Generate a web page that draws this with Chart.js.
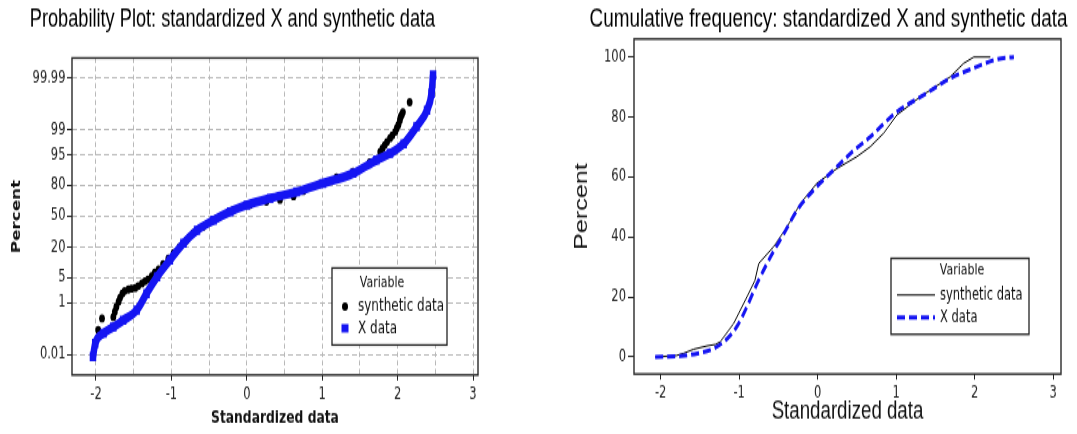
<!DOCTYPE html>
<html><head><meta charset="utf-8">
<script src="https://cdn.jsdelivr.net/npm/chart.js@4.4.1/dist/chart.umd.min.js"></script>
<style>
html,body{margin:0;padding:0;background:#fff;overflow:hidden;}
#wrap{position:relative;width:1077px;height:434px;background:#fff;}
canvas{position:absolute;top:0;}
</style></head><body>
<div id="wrap">
<canvas id="c1" width="540" height="310" style="left:0;width:540px;height:434px"></canvas>
<canvas id="c2" width="537" height="310" style="left:540px;width:537px;height:434px"></canvas>
</div>
<script>
// ---------------- data ----------------
const seriesNames = ['synthetic data', 'X data'];
const legendHeading = 'Variable';
const leftTitle = 'Probability Plot: standardized X and synthetic data';
const rightTitle = 'Cumulative frequency: standardized X and synthetic data';
const xAxisTitle = 'Standardized data';
const yAxisTitle = 'Percent';

// probability plot y ticks (percent, normal probability scale)
const probTickPercents = [0.01, 1, 5, 20, 50, 80, 95, 99, 99.99];
const probTickLabels = ['0.01', '1', '5', '20', '50', '80', '95', '99', '99.99'];
// x ticks
const xTickValues = [-2, -1, 0, 1, 2, 3];
const xTickLabels = ['-2', '-1', '0', '1', '2', '3'];
const probGridX = [-2, -1.5, -1, -0.5, 0, 0.5, 1, 1.5, 2, 2.5, 3];
// cumulative y ticks
const cumTickValues = [0, 20, 40, 60, 80, 100];

// probability plot: X data
const probXdataX = [-2.04, -2.01, -1.90, -1.77, -1.64, -1.46, -1.33, -1.19, -1.02, -0.84, -0.66, -0.44, -0.22, 0.00, 0.31, 0.66, 1.01, 1.41, 1.72, 1.90, 2.08, 2.25, 2.39, 2.45, 2.47];
const probXdataPct = [0.0078, 0.031, 0.082, 0.144, 0.256, 0.57, 1.88, 5.16, 11.9, 23.3, 35.2, 45.6, 54.8, 61.8, 68.4, 74.2, 81.1, 87.5, 93.4, 95.4, 97.4, 99.18, 99.78, 99.952, 99.9925];
// probability plot: synthetic data
const probSynthX = [-1.97, -1.92, -1.77, -1.75, -1.73, -1.70, -1.68, -1.65, -1.62, -1.57, -1.53, -1.48, -1.44, -1.39, -1.35, -1.31, -1.26, -1.22, -1.17, -1.11, -1.04, -0.97, -0.89, -0.80, -0.71, -0.58, -0.40, -0.18, 0.04, 0.26, 0.44, 0.62, 0.75, 0.97, 1.19, 1.41, 1.63, 1.77, 1.80, 1.83, 1.86, 1.90, 1.93, 1.97, 1.99, 2.01, 2.03, 2.04, 2.055, 2.07, 2.16];
const probSynthPct = [0.111, 0.298, 0.336, 0.508, 0.734, 1.07, 1.43, 1.88, 2.22, 2.44, 2.56, 2.68, 3.01, 3.52, 4.01, 4.46, 5.37, 6.43, 7.64, 9.85, 12.7, 16.1, 20.3, 25.8, 32.6, 38.6, 47.6, 56.4, 61.8, 65.2, 67.0, 70.3, 75.0, 80.6, 85.2, 88.4, 92.6, 95.8, 96.6, 97.2, 97.7, 98.2, 98.5, 98.84, 99.1, 99.29, 99.5, 99.62, 99.68, 99.74, 99.89];

// cumulative frequency: X data
const cumXdataX = [-2.07, -1.75, -1.53, -1.32, -1.15, -1.03, -0.90, -0.77, -0.60, -0.43, -0.26, -0.05, 0.16, 0.42, 0.67, 1.01, 1.35, 1.69, 2.03, 2.29, 2.50];
const cumXdataPct = [0, 0.3, 1.2, 2.9, 6.2, 10.1, 16.8, 24.6, 33.4, 41.2, 49.0, 55.7, 61.2, 67.9, 73.4, 81.8, 87.3, 92.9, 96.8, 99.3, 100];
// cumulative frequency: synthetic data
const cumSynthX = [-2.07, -1.80, -1.71, -1.58, -1.41, -1.30, -1.24, -1.07, -0.90, -0.80, -0.75, -0.56, -0.39, -0.22, -0.01, 0.25, 0.50, 0.67, 0.84, 1.01, 1.31, 1.69, 1.86, 1.99, 2.20];
const cumSynthPct = [0, 0.5, 1.2, 2.6, 3.7, 4.2, 5.1, 11.2, 20.1, 25.5, 31.2, 36.8, 43.4, 51.2, 57.9, 62.9, 66.8, 70.1, 74.6, 80.7, 86.8, 93.4, 97.9, 100, 100];

// ---------------- helpers ----------------
// inverse standard normal CDF (Acklam)
function qnorm(p) {
  const a = [-3.969683028665376e+01, 2.209460984245205e+02, -2.759285104469687e+02, 1.383577518672690e+02, -3.066479806614716e+01, 2.506628277459239e+00];
  const b = [-5.447609879822406e+01, 1.615858368580409e+02, -1.556989798598866e+02, 6.680131188771972e+01, -1.328068155288572e+01];
  const c = [-7.784894002430293e-03, -3.223964580411365e-01, -2.400758277161838e+00, -2.549671020485356e+00, 4.374664141464968e+00, 2.938163982698783e+00];
  const d = [7.784695709041462e-03, 3.224671290700398e-01, 2.445134137142996e+00, 3.754408661907416e+00];
  const pl = 0.02425, ph = 1 - pl;
  let q, r;
  if (p < pl) { q = Math.sqrt(-2 * Math.log(p)); return (((((c[0]*q+c[1])*q+c[2])*q+c[3])*q+c[4])*q+c[5]) / ((((d[0]*q+d[1])*q+d[2])*q+d[3])*q+1); }
  if (p <= ph) { q = p - 0.5; r = q*q; return (((((a[0]*r+a[1])*r+a[2])*r+a[3])*r+a[4])*r+a[5])*q / (((((b[0]*r+b[1])*r+b[2])*r+b[3])*r+b[4])*r+1); }
  q = Math.sqrt(-2 * Math.log(1 - p)); return -(((((c[0]*q+c[1])*q+c[2])*q+c[3])*q+c[4])*q+c[5]) / ((((d[0]*q+d[1])*q+d[2])*q+d[3])*q+1);
}
const pairs = (xs, ys, f) => xs.map((x, i) => ({ x: x, y: f ? f(ys[i]) : ys[i] }));
const toScore = pct => qnorm(pct / 100);

// the page is drawn on a 310px-tall canvas shown 434px tall
const CH = 310, VS = 434 / CH;
const py = v => v / VS;

const BLUE = '#1515f2';
const TICK_FONT = { family: 'DejaVu Sans', size: 11.5 };

const decor = {
  id: 'decor',
  afterDraw(chart, args, o) {
    const ctx = chart.ctx, a = chart.chartArea;
    ctx.save();
    ctx.strokeStyle = '#2a2a2a'; ctx.lineWidth = 1.4;
    ctx.strokeRect(a.left, a.top, a.right - a.left, a.bottom - a.top);
    ctx.fillStyle = '#000'; ctx.font = o.titleFont; ctx.textAlign = 'center'; ctx.textBaseline = 'alphabetic';
    ctx.fillText(o.title, o.titleX, o.titleY);
    const L = o.legend;
    ctx.fillStyle = '#fff'; ctx.fillRect(L.x, L.y, L.w, L.h);
    ctx.strokeStyle = '#222'; ctx.lineWidth = 1.3; ctx.strokeRect(L.x, L.y, L.w, L.h);
    ctx.fillStyle = '#111'; ctx.font = L.headFont; ctx.textAlign = 'center'; ctx.textBaseline = 'middle';
    ctx.fillText(legendHeading, L.headX, L.headY);
    ctx.font = L.font; ctx.textAlign = 'left';
    L.items.forEach((it, i) => {
      ctx.save();
      if (it.kind === 'dot') { ctx.fillStyle = '#000'; ctx.beginPath(); ctx.arc(L.sx, it.y, 3, 0, Math.PI * 2); ctx.fill(); }
      if (it.kind === 'square') { ctx.fillStyle = BLUE; ctx.fillRect(L.sx - 3.5, it.y - 3, 7, 6); }
      if (it.kind === 'line' || it.kind === 'dash') {
        ctx.strokeStyle = it.kind === 'line' ? '#000' : BLUE;
        ctx.lineWidth = it.kind === 'line' ? 1 : 3;
        if (it.kind === 'dash') ctx.setLineDash([8, 4]);
        ctx.beginPath(); ctx.moveTo(L.sx, it.y); ctx.lineTo(L.sx2, it.y); ctx.stroke();
      }
      ctx.restore();
      ctx.fillStyle = '#111';
      ctx.fillText(seriesNames[i], L.textX, it.y);
    });
    ctx.restore();
  }
};

// ---------------- left: probability plot ----------------
new Chart(document.getElementById('c1'), {
  type: 'scatter',
  data: {
    datasets: [
      { label: seriesNames[0], data: pairs(probSynthX, probSynthPct, toScore), order: 1,
        pointStyle: 'circle', pointRadius: 2.9, pointBorderWidth: 0, backgroundColor: '#000', borderColor: '#000', showLine: false },
      { label: seriesNames[1], data: pairs(probXdataX, probXdataPct, toScore), order: 0,
        showLine: true, borderColor: BLUE, backgroundColor: BLUE, borderWidth: 6.5, cubicInterpolationMode: 'monotone',
        borderCapStyle: 'butt', borderJoinStyle: 'round',
        pointStyle: 'rect', pointRadius: 4.6, pointBorderWidth: 0 }
    ]
  },
  options: {
    responsive: false, animation: false, devicePixelRatio: 1,
    layout: { padding: { left: 0, top: py(58), right: 540 - 478, bottom: 0 } },
    plugins: {
      legend: { display: false }, tooltip: { enabled: false },
      decor: {
        title: leftTitle, titleFont: '18.2px "Liberation Sans", Arial, sans-serif', titleX: 232.5, titleY: py(26.5),
        legend: { x: 332, y: py(268), w: 115, h: py(77), headX: 382, headY: py(283), headFont: '11px "DejaVu Sans"',
          font: '12px "DejaVu Sans"', sx: 345, textX: 358,
          items: [{ kind: 'dot', y: py(306.7) }, { kind: 'square', y: py(328.3) }] }
      }
    },
    scales: {
      x: {
        type: 'linear', min: -2.318, max: 3.066,
        afterBuildTicks: s => { s.ticks = probGridX.map(v => ({ value: v })); },
        afterFit: s => { s.height = CH - py(375); },
        ticks: { autoSkip: false, maxRotation: 0, font: TICK_FONT, color: '#222', padding: 3.3,
          callback: v => { const i = xTickValues.indexOf(v); return i >= 0 ? xTickLabels[i] : ''; } },
        grid: { color: '#b8b8b8', lineWidth: 1, tickLength: 4, tickWidth: 1,
          tickColor: c => (c.tick && Number.isInteger(c.tick.value)) ? '#222' : 'rgba(0,0,0,0)' },
        border: { display: false, dash: [3.6, 2.4] },
        title: { display: true, text: xAxisTitle, color: '#111', font: { family: 'DejaVu Sans', size: 12.3, weight: 'bold' }, padding: { top: 0, bottom: 3.6 } }
      },
      y: {
        type: 'linear', min: -4.27, max: 4.25,
        afterBuildTicks: s => { s.ticks = probTickPercents.map(p => ({ value: toScore(p) })); },
        afterFit: s => { s.width = 72; },
        ticks: { autoSkip: false, font: TICK_FONT, color: '#222', padding: 1.5,
          callback: (v, i) => probTickLabels[i] },
        grid: { color: '#b8b8b8', lineWidth: 1, tickLength: 5, tickWidth: 1, tickColor: '#222' },
        border: { display: false, dash: [5, 3] },
        title: { display: true, text: yAxisTitle, color: '#111', font: { family: 'DejaVu Sans', size: 12, weight: 'bold' }, padding: { top: 9.8, bottom: 0 } }
      }
    }
  },
  plugins: [decor]
});

// ---------------- right: cumulative frequency ----------------
new Chart(document.getElementById('c2'), {
  type: 'scatter',
  data: {
    datasets: [
      { label: seriesNames[0], data: pairs(cumSynthX, cumSynthPct), order: 1, showLine: true,
        borderColor: '#000', borderWidth: 1, pointRadius: 0, tension: 0 },
      { label: seriesNames[1], data: pairs(cumXdataX, cumXdataPct), order: 0, showLine: true,
        borderColor: BLUE, borderWidth: 3, borderDash: [8, 4], pointRadius: 0, cubicInterpolationMode: 'monotone' }
    ]
  },
  options: {
    responsive: false, animation: false, devicePixelRatio: 1,
    layout: { padding: { left: 0, top: py(39), right: 537 - 521, bottom: 0 } },
    plugins: {
      legend: { display: false }, tooltip: { enabled: false },
      decor: {
        title: rightTitle, titleFont: '18.9px "Liberation Sans", Arial, sans-serif', titleX: 288.5, titleY: py(26.5),
        legend: { x: 351, y: py(258.3), w: 138, h: py(76), headX: 422, headY: py(271), headFont: '11px "DejaVu Sans"',
          font: '11.5px "DejaVu Sans"', sx: 357, sx2: 395, textX: 400,
          items: [{ kind: 'line', y: py(295) }, { kind: 'dash', y: py(317.3) }] }
      }
    },
    scales: {
      x: {
        type: 'linear', min: -2.34, max: 3.10,
        afterBuildTicks: s => { s.ticks = xTickValues.map(v => ({ value: v })); },
        afterFit: s => { s.height = CH - py(374); },
        ticks: { autoSkip: false, maxRotation: 0, font: TICK_FONT, color: '#222', padding: 3.4,
          callback: (v, i) => xTickLabels[i] },
        grid: { drawOnChartArea: false, tickLength: 4, tickWidth: 1, tickColor: '#222' },
        border: { display: false },
        title: { display: true, text: xAxisTitle, color: '#111', font: { family: 'Liberation Sans', size: 18.7 }, padding: { top: 0, bottom: 5.3 } }
      },
      y: {
        type: 'linear', min: -5.67, max: 106,
        afterBuildTicks: s => { s.ticks = cumTickValues.map(v => ({ value: v })); },
        afterFit: s => { s.width = 94; },
        ticks: { autoSkip: false, font: TICK_FONT, color: '#222', padding: 2,
          callback: (v, i) => String(cumTickValues[i]) },
        grid: { drawOnChartArea: false, tickLength: 6, tickWidth: 1, tickColor: '#222' },
        border: { display: false },
        title: { display: true, text: yAxisTitle, color: '#111', font: { family: 'Liberation Sans', size: 18 }, padding: { top: 31.2, bottom: 0 } }
      }
    }
  },
  plugins: [decor]
});
</script>
</body></html>
